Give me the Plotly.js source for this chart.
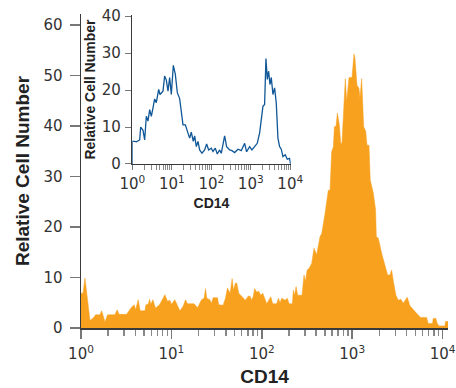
<!DOCTYPE html>
<html>
<head>
<meta charset="utf-8">
<script src="https://cdn.plot.ly/plotly-3.0.1.min.js"></script>
<style>html,body{margin:0;padding:0;background:#fff;}#chart{width:456px;height:388px;}</style>
</head>
<body>
<div id="chart"></div>
<script>
// Main histogram: CD14 intensity (log10 exponent) and relative cell number
var mainExp = [0.000,0.022,0.044,0.066,0.099,0.136,0.162,0.210,0.228,0.246,0.265,0.294,0.375,0.401,0.420,0.504,0.559,0.589,0.604,0.633,0.655,0.707,0.718,0.744,0.758,0.773,0.795,0.825,0.872,0.928,0.957,0.983,1.001,1.038,1.057,1.094,1.130,1.156,1.178,1.252,1.289,1.333,1.362,1.377,1.392,1.425,1.443,1.462,1.510,1.524,1.572,1.598,1.620,1.650,1.672,1.687,1.709,1.723,1.745,1.782,1.819,1.849,1.871,1.885,1.904,1.922,1.944,1.966,1.989,2.011,2.036,2.055,2.099,2.121,2.165,2.184,2.202,2.221,2.257,2.283,2.302,2.338,2.349,2.364,2.379,2.397,2.416,2.445,2.467,2.482,2.502,2.526,2.552,2.578,2.607,2.644,2.663,2.681,2.699,2.736,2.755,2.773,2.792,2.803,2.821,2.836,2.858,2.873,2.887,2.902,2.924,2.939,2.965,2.998,3.020,3.031,3.053,3.075,3.086,3.105,3.127,3.149,3.164,3.186,3.200,3.234,3.259,3.267,3.289,3.326,3.362,3.392,3.418,3.436,3.458,3.484,3.510,3.539,3.565,3.594,3.609,3.639,3.675,3.712,3.757,3.823,3.841,3.889,3.896,3.926,3.941,3.963,4.025,4.033,4.060];
var mainCount = [6.9,6.9,9.9,6.6,1.5,2.0,2.6,2.6,3.4,2.4,1.2,2.6,2.6,3.6,2.7,2.7,4.1,4.6,3.6,5.6,3.4,3.4,4.6,4.7,5.7,4.7,5.6,3.9,4.7,6.6,5.3,5.5,4.7,5.6,4.8,3.4,4.3,5.6,4.8,4.8,4.0,5.6,5.9,7.8,5.9,5.6,4.9,6.0,6.0,4.6,4.5,5.9,7.9,6.9,9.8,7.5,8.9,8.9,6.9,6.2,5.5,6.3,6.3,5.5,6.2,7.8,7.1,7.3,6.5,6.9,5.9,4.8,6.2,4.8,4.8,5.9,5.0,5.9,5.5,5.9,4.8,4.8,7.5,6.5,8.2,6.5,6.5,6.5,10.5,9.2,11.5,11.9,12.8,15.8,14.5,18.1,18.7,20.4,22.6,27.3,27.3,34.9,35.9,39.9,39.9,42.6,40.2,36.6,36.6,41.8,49.4,44.8,49.6,49.6,54.3,53.4,48.1,47.5,45.5,49.4,39.9,39.0,36.2,36.2,29.3,26.7,23.4,18.1,17.8,14.8,12.5,10.5,10.5,11.5,9.0,6.5,5.5,5.7,4.9,5.7,6.1,4.4,3.6,2.9,2.1,2.1,0.9,0.9,1.9,1.9,0.9,0.4,0.4,1.3,1.3];

// Inset histogram
var insetExp = [0.000,0.000,0.060,0.102,0.187,0.212,0.271,0.313,0.355,0.397,0.440,0.482,0.524,0.566,0.608,0.668,0.701,0.777,0.819,0.862,0.904,0.946,0.988,1.039,1.089,1.140,1.199,1.241,1.284,1.343,1.393,1.452,1.494,1.545,1.579,1.621,1.663,1.706,1.765,1.832,1.883,1.933,2.001,2.043,2.102,2.153,2.212,2.254,2.338,2.389,2.465,2.524,2.592,2.676,2.760,2.845,2.895,2.971,3.030,3.098,3.165,3.225,3.267,3.309,3.351,3.385,3.419,3.453,3.486,3.520,3.562,3.604,3.646,3.689,3.731,3.773,3.815,3.874,3.925,3.984,4.009];
var insetCount = [0,6.1,6.1,6.0,6.5,10.0,9.1,6.5,12.9,11.6,14.7,12.9,15.2,17.6,16.6,20.2,18.8,19.7,23.8,22.7,19.7,23.4,18.8,26.7,24.3,19.3,17.7,14.7,10.6,10.6,8.8,7.0,8.6,6.1,7.6,4.7,6.1,3.8,2.9,3.8,5.4,3.8,4.3,3.4,4.3,2.7,3.8,2.9,7.6,4.7,3.8,3.6,3.1,4.0,3.6,5.6,3.3,4.7,3.8,4.7,5.6,8.4,12.9,15.6,16.1,28.5,22.9,25.1,21.5,23.4,18.8,20.6,16.5,7.0,4.7,4.0,2.0,2.5,1.3,1.5,0];

// Tick labels
var xTickVals = [1, 10, 100, 1000, 10000];
var xTickText = ['10<sup>0</sup>','10<sup>1</sup>','10<sup>2</sup>','10<sup>3</sup>','10<sup>4</sup>'];
var mainYTicks = [0, 10, 20, 30, 40, 50, 60];
var insetYTicks = [0, 10, 20, 30, 40];
var xTitle = 'CD14';
var yTitle = 'Relative Cell Number';

var minorVals = [];
for (var d = 0; d < 4; d++) { for (var m = 2; m <= 9; m++) { minorVals.push(m * Math.pow(10, d)); } }

function toLin(arr) { return arr.map(function (e) { return Math.pow(10, e); }); }

var tickFont = {family: 'DejaVu Sans, sans-serif', size: 15, color: '#333'};
var titleFontBig = {family: 'Liberation Sans, Arial, sans-serif', size: 19, color: '#222', weight: 'bold'};
var titleFontSmall = {family: 'Liberation Sans, Arial, sans-serif', size: 14, color: '#222', weight: 'bold'};

var traces = [
  {
    x: toLin(mainExp), y: mainCount, type: 'scatter', mode: 'lines',
    fill: 'tozeroy', fillcolor: '#F7A11E',
    line: {color: '#F7A11E', width: 0.5},
    xaxis: 'x', yaxis: 'y', hoverinfo: 'skip'
  },
  {
    x: toLin(insetExp), y: insetCount, type: 'scatter', mode: 'lines',
    line: {color: '#0F5797', width: 1.3},
    xaxis: 'x2', yaxis: 'y2', hoverinfo: 'skip'
  }
];

var layout = {
  width: 456, height: 388,
  margin: {l: 81, r: 8, t: 14, b: 60},
  paper_bgcolor: '#ffffff', plot_bgcolor: 'rgba(0,0,0,0)',
  showlegend: false,
  xaxis: {
    type: 'log', range: [0, 4.06], domain: [0, 1],
    tickmode: 'array', tickvals: xTickVals, ticktext: xTickText,
    ticks: 'outside', ticklen: 9, tickwidth: 1.5, tickcolor: '#777',
    minor: {tickmode: 'array', tickvals: minorVals, ticks: 'outside', ticklen: 6, tickwidth: 1.5, tickcolor: '#888'},
    showline: true, linecolor: '#3a3a3a', linewidth: 2,
    showgrid: false, zeroline: false,
    tickfont: tickFont, ticklabelstandoff: 2,
    title: {text: xTitle, font: titleFontBig, standoff: 8}
  },
  yaxis: {
    range: [0, 62.2], domain: [0, 1],
    tickmode: 'array', tickvals: mainYTicks,
    ticks: 'outside', ticklen: 10, tickwidth: 1.5, tickcolor: '#777',
    showline: true, linecolor: '#3a3a3a', linewidth: 1.5,
    showgrid: false, zeroline: false,
    tickfont: tickFont, ticklabelstandoff: 4,
    title: {text: yTitle, font: titleFontBig, standoff: 9}
  },
  xaxis2: {
    type: 'log', range: [0, 4.012], domain: [0.1398, 0.5714], anchor: 'y2',
    tickmode: 'array', tickvals: xTickVals, ticktext: xTickText,
    ticks: 'outside', ticklen: 5, tickwidth: 1, tickcolor: '#777',
    minor: {tickmode: 'array', tickvals: minorVals, ticks: 'outside', ticklen: 5, tickwidth: 1, tickcolor: '#888'},
    showline: true, linecolor: '#3a3a3a', linewidth: 1.5,
    showgrid: false, zeroline: false,
    tickfont: tickFont, ticklabelstandoff: 1,
    title: {text: xTitle, font: titleFontSmall, standoff: 5}
  },
  yaxis2: {
    range: [0, 40.3], domain: [0.5223, 0.9968], anchor: 'x2',
    tickmode: 'array', tickvals: insetYTicks,
    ticks: 'outside', ticklen: 6, tickwidth: 1, tickcolor: '#777',
    showline: true, linecolor: '#3a3a3a', linewidth: 1.5,
    showgrid: false, zeroline: false,
    tickfont: tickFont, ticklabelstandoff: 1,
    title: {text: yTitle, font: titleFontSmall, standoff: 3}
  }
};

Plotly.newPlot('chart', traces, layout, {displayModeBar: false, staticPlot: true});
</script>
</body>
</html>
